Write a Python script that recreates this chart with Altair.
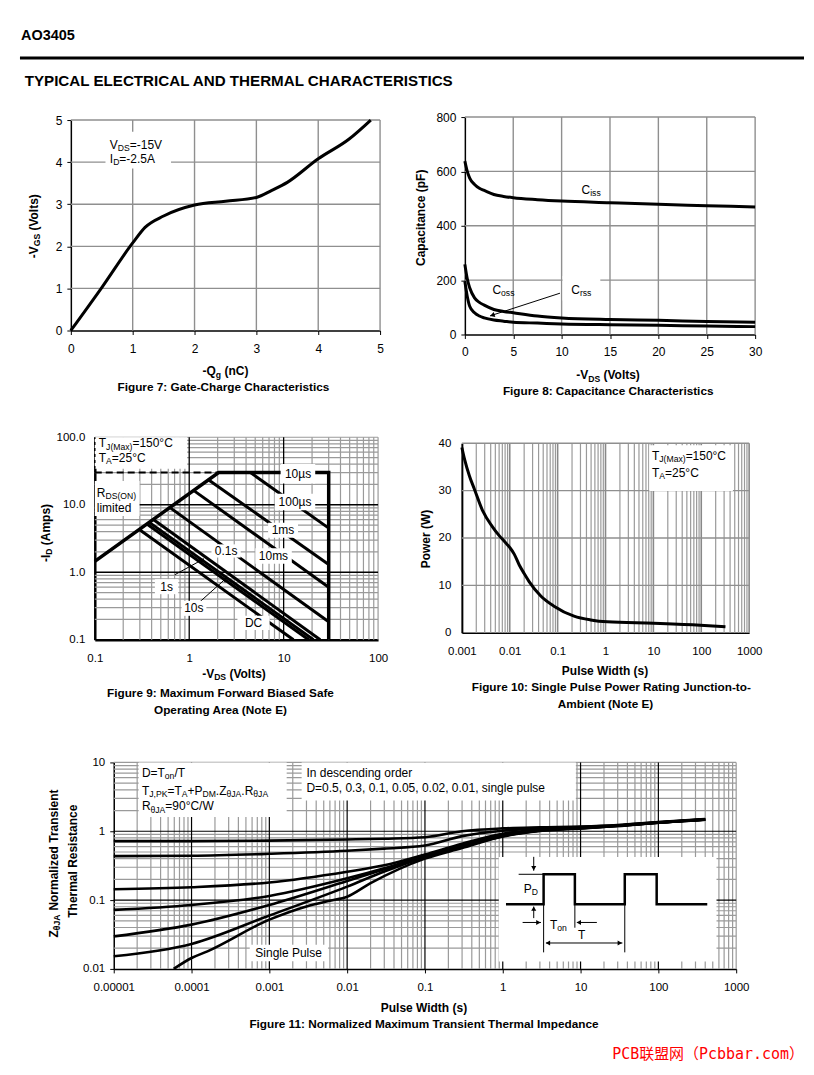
import altair as alt
import pandas as pd

FONT = "Liberation Sans"
GRID = "#9a9a9a"
BLACK = "#000000"

# ---------------- Figure 7: gate charge ----------------
qg_nc = [0, 0.5, 1.0, 1.2, 1.5, 2.0, 2.5, 3.0, 3.25, 3.5, 4.0, 4.5, 4.85]
vgs_volts = [0, 1.02, 2.08, 2.45, 2.72, 2.98, 3.07, 3.16, 3.33, 3.52, 4.08, 4.55, 5.0]

# ---------------- Figure 8: capacitance ----------------
vds_cap = [0, 0.25, 0.5, 1, 1.5, 2, 3, 4, 5, 7.5, 10, 15, 20, 25, 30]
ciss_pf = [638, 600, 575, 552, 538, 530, 515, 508, 503, 496, 491, 485, 479, 474, 469]
coss_pf = [258, 205, 172, 135, 118, 108, 92, 85, 80, 68, 61, 55, 52, 48, 45]
crss_pf = [196, 140, 104, 80, 68, 61, 53, 49, 45, 42, 39, 36, 34, 31, 29]

# ---------------- Figure 9: safe operating area ----------------
soa_limit_v = [0.1, 2.05, 30, 30]
soa_limit_a = [1.45, 30, 30, 0.1]
soa_dash_v = [0.1, 2.05]
soa_dash_a = [30, 30]
soa_names = ["10us", "100us", "1ms", "10ms", "0.1s", "1s", "10s", "DC"]
soa_start_v = [4.45, 1.61, 1.12, 0.625, 0.417, 0.378, 0.356, 0.296]
soa_start_a = [30, 23.3, 16.2, 9.06, 6.05, 5.48, 5.17, 4.29]
soa_end_v = [30, 30, 30, 30, 24.4, 20.7, 18.4, 12.7]
soa_end_a = [4.5, 1.3, 0.6, 0.185, 0.1, 0.1, 0.1, 0.1]
soa_label = ["10\u00b5s", "100\u00b5s", "1ms", "10ms", "0.1s", "1s", "10s", "DC"]
soa_label_v = [14.2, 13.2, 9.85, 7.8, 2.46, 0.576, 1.12, 4.8]
soa_label_a = [28.9, 10.9, 4.2, 1.74, 2.07, 0.61, 0.292, 0.178]
soa_box_v1 = [9.29, 8.04, 6.84, 5.02, 1.72, 0.433, 0.83, 3.24]
soa_box_v2 = [21.6, 21.6, 14.2, 12.2, 3.51, 0.766, 1.52, 7.11]
soa_box_a1 = [20.7, 8.26, 3.25, 1.34, 1.65, 0.473, 0.226, 0.14]
soa_box_a2 = [40.3, 14.5, 5.42, 2.26, 2.59, 0.789, 0.377, 0.226]

# ---------------- Figure 10: single pulse power ----------------
pw_s = [0.001, 0.00114, 0.00144, 0.00183, 0.00273, 0.0044, 0.0059, 0.0077, 0.01, 0.0124,
        0.0158, 0.02, 0.0254, 0.0445, 0.084, 0.22, 0.49, 1.09, 10.1, 95, 320]
pw_w = [39.1, 36.6, 33.1, 30.3, 25.7, 22.3, 20.6, 19.3, 18.0, 16.6,
        14.3, 12.5, 10.8, 7.75, 5.6, 3.5, 2.7, 2.3, 2.0, 1.6, 1.27]

# ---------------- Figure 11: transient thermal impedance ----------------
zt_x = [1e-5, 1e-4, 1e-3, 1e-2, 0.03, 0.1, 0.3, 1, 3, 10, 30, 100, 400]
zt_d05 = [0.72, 0.72, 0.73, 0.76, 0.78, 0.82, 1.0, 1.1, 1.14, 1.17, 1.23, 1.36, 1.5]
zt_d03 = [0.435, 0.44, 0.47, 0.52, 0.56, 0.62, 0.85, 1.02, 1.1, 1.15, 1.22, 1.35, 1.49]
zt_d01 = [0.144, 0.154, 0.18, 0.258, 0.32, 0.46, 0.66, 0.92, 1.06, 1.13, 1.21, 1.34, 1.49]
zt_d005 = [0.072, 0.085, 0.115, 0.207, 0.29, 0.44, 0.62, 0.88, 1.04, 1.12, 1.2, 1.34, 1.48]
zt_d002 = [0.0297, 0.044, 0.085, 0.19, 0.28, 0.43, 0.6, 0.86, 1.03, 1.11, 1.2, 1.33, 1.48]
zt_d001 = [0.0153, 0.0231, 0.0597, 0.157, 0.26, 0.42, 0.59, 0.85, 1.02, 1.11, 1.19, 1.33, 1.47]
zt_sp_x = [5.9e-5, 1e-4, 1.6e-4, 1e-3, 3e-3, 6e-3, 1e-2, 2e-2, 0.1, 0.3, 1, 3, 10, 30, 100, 400]
zt_sp = [0.01, 0.0144, 0.018, 0.052, 0.081, 0.098, 0.112, 0.176, 0.40, 0.57, 0.84, 1.01, 1.1, 1.19, 1.33, 1.47]
# inset pulse diagram (drawn in the chart's own units)
inset_x = [1.10, 3.35, 3.35, 8.45, 8.45, 37.0, 37.0, 95.1, 95.1, 425]
inset_y = [0.0873, 0.0873, 0.237, 0.237, 0.0873, 0.0873, 0.237, 0.237, 0.0873, 0.0873]
inset_sx1 = [1.60, 2.50, 2.50, 1.80, 16.2, 3.59, 3.35, 8.45, 37.0]
inset_sy1 = [0.237, 0.425, 0.0547, 0.0473, 0.0473, 0.0238, 0.0873, 0.0873, 0.0873]
inset_sx2 = [3.35, 2.50, 2.50, 3.10, 8.97, 34.5, 3.35, 8.45, 37.0]
inset_sy2 = [0.237, 0.267, 0.0805, 0.0473, 0.0473, 0.0238, 0.0174, 0.0397, 0.0174]
inset_hx = [2.50, 2.50, 2.81, 9.7, 3.89, 31.3]
inset_hy = [0.297, 0.0734, 0.0473, 0.0473, 0.0238, 0.0238]
inset_ha = [180, 0, 90, 270, 270, 90]

ONE = pd.DataFrame({"k": [0]})

REG_W = {' ': .278, '-': .333, '=': .584, '+': .584, '.': .278, ',': .278, '/': .278, '(': .333,
         ')': .333, '\u00b0': .4, '\u00b5': .576, '\u03b8': .556, 'A': .667, 'C': .722, 'D': .722,
         'G': .778, 'I': .278, 'J': .5, 'K': .667, 'M': .833, 'N': .722, 'O': .778, 'P': .667,
         'Q': .778, 'R': .722, 'S': .667, 'T': .611, 'V': .667, 'W': .944, 'Z': .611, 'a': .556,
         'c': .5, 'd': .556, 'e': .556, 'g': .556, 'i': .222, 'l': .222, 'm': .833, 'n': .556,
         'o': .556, 'p': .556, 'r': .333, 's': .5, 't': .278, 'u': .556, 'x': .5, 'z': .5}
BOLD_W = {' ': .278, '-': .333, '=': .584, '.': .278, '(': .333, ')': .333, ':': .333,
          '\u03b8': .611, 'A': .722, 'C': .722, 'D': .722, 'G': .778, 'I': .278, 'J': .556,
          'N': .722, 'Q': .778, 'R': .722, 'S': .667, 'T': .611, 'V': .667, 'Z': .611, 'P': .667,
          'W': .944, 'a': .556, 'c': .556, 'd': .611, 'e': .556, 'g': .611, 'i': .278, 'l': .278,
          'm': .889, 'n': .611, 'o': .611, 'p': .611, 'r': .389, 's': .556, 't': .333, 'z': .5,
          'u': .611, 'h': .611, 'f': .333, 'b': .611, 'k': .556, 'v': .556, 'y': .556, 'w': .778}


def tw(s, size, bold):
    tbl = BOLD_W if bold else REG_W
    return size * sum(tbl.get(c, 0.556) for c in s)


def T(text, x, y, size=12, bold=False, align="center", angle=0, color=BLACK, font=FONT, dx=0, dy=0):
    props = dict(text=text, align=align, baseline="middle", fontSize=size, font=font,
                 fontWeight="bold" if bold else "normal", color=color)
    if angle:
        props["angle"] = angle
    if dx:
        props["dx"] = dx
    if dy:
        props["dy"] = dy
    return alt.Chart(ONE).mark_text(**props).encode(x=x, y=y)


def rich(pieces, x, y, size=12, bold=False, align="left", angle=0, dx0=0, sub=0.72):
    """Text with subscripts: one text mark per piece, laid out side by side."""
    ws = [tw(t, size * (sub if s else 1), bold) for t, s in pieces]
    W = sum(ws)
    off = dx0 + {"left": 0, "center": -W / 2, "right": -W}[align]
    out = []
    for (t, s), w in zip(pieces, ws):
        sz = size * (sub if s else 1)
        body = t.lstrip(" ")
        lead = tw(t[:len(t) - len(body)], sz, bold)   # SVG drops leading blanks
        out.append(T(body, x, y, sz, bold, "left", angle,
                     dx=off + lead, dy=(size * 0.27 if s else 0)))
        off += w
    return out


def axis(values, fmt, pad, tick=4, dw=1.5, size=12, offset=0):
    kw = dict(values=values, format=fmt, title=None, grid=False, domainColor=BLACK, domainWidth=dw,
              labelFont=FONT, labelFontSize=size, labelColor=BLACK, labelPadding=pad,
              labelFlush=False, labelOverlap=False)
    if offset:
        kw["offset"] = offset
    if tick:
        kw.update(ticks=True, tickSize=tick, tickColor=BLACK, tickWidth=1)
    else:
        kw.update(ticks=False)
    return alt.Axis(**kw)


class Panel:
    """Holds the scales and axes of one figure; every layer uses the same definitions."""

    def __init__(self, sx, sy, ax, ay, ox, oy):
        self.sx, self.sy, self.ax, self.ay, self.ox, self.oy = sx, sy, ax, ay, ox, oy

    def X(self, f):
        return alt.X(f, type="quantitative", scale=self.sx, axis=self.ax)

    def Y(self, f):
        return alt.Y(f, type="quantitative", scale=self.sy, axis=self.ay)

    def DX(self, v):
        return alt.X(datum=v, type="quantitative", scale=self.sx, axis=self.ax)

    def DY(self, v):
        return alt.Y(datum=v, type="quantitative", scale=self.sy, axis=self.ay)

    def PX(self, v):
        return alt.value(self.ox + v)

    def PY(self, v):
        return alt.value(self.oy + v)

    def vrules(self, vals, y0, y1, color=GRID, width=1.2):
        return alt.Chart(pd.DataFrame({"g": vals})).mark_rule(color=color, strokeWidth=width).encode(
            x=self.X("g"), y=self.DY(y0), y2=alt.Y2(datum=y1))

    def hrules(self, vals, x0, x1, color=GRID, width=1.2):
        return alt.Chart(pd.DataFrame({"g": vals})).mark_rule(color=color, strokeWidth=width).encode(
            y=self.Y("g"), x=self.DX(x0), x2=alt.X2(datum=x1))

    def box(self, x0, x1, y0, y1):
        return alt.Chart(ONE).mark_rect(color="white").encode(
            x=self.DX(x0), x2=alt.X2(datum=x1), y=self.DY(y0), y2=alt.Y2(datum=y1))

    def heads(self, xs, ys, angles, size=30):
        return alt.Chart(pd.DataFrame({"x": xs, "y": ys, "a": angles})).mark_point(
            shape="triangle", filled=True, color=BLACK, size=size, opacity=1).encode(
            x=self.X("x"), y=self.Y("y"), angle=alt.Angle("a:Q", scale=None))

    def segs(self, x1, y1, x2, y2, width=1):
        return alt.Chart(pd.DataFrame({"x": x1, "y": y1, "x2": x2, "y2": y2})).mark_rule(
            color=BLACK, strokeWidth=width).encode(
            x=self.X("x"), y=self.Y("y"), x2="x2:Q", y2="y2:Q")


def spacer(w, h):
    return alt.Chart(ONE).mark_point(opacity=0, size=0).encode(
        x=alt.value(0), y=alt.value(0)).properties(width=w, height=h)


CAP = 11.8
# Layout: two grid columns. Column 1 starts at page x=18, column 2 at page x=461.
COL1 = 443

# ======================= Figure 7 =======================
ox, oy = 51, 3
p7 = Panel(alt.Scale(domain=[0, 5], nice=False, zero=False, range=[ox, ox + 310]),
           alt.Scale(domain=[0, 5], nice=False, zero=False, range=[oy + 211, oy]),
           axis([0, 1, 2, 3, 4, 5], "d", 9),
           axis([0, 1, 2, 3, 4, 5], "d", 5, offset=-ox), ox, oy)
line7 = alt.Chart(pd.DataFrame({"q": qg_nc, "v": vgs_volts})).mark_line(
    color=BLACK, strokeWidth=3, interpolate="monotone").encode(x=p7.X("q"), y=p7.Y("v"))
fig7 = alt.layer(
    p7.vrules([1, 2, 3, 4, 5], 0, 5, "#8f8f8f", 1.4), p7.hrules([1, 2, 3, 4, 5], 0, 5, "#8f8f8f", 1.4),
    line7, p7.box(0.56, 1.62, 3.85, 4.72),
    *rich([("V", 0), ("DS", 1), ("=-15V", 0)], p7.DX(0.63), p7.DY(4.41)),
    *rich([("I", 0), ("D", 1), ("=-2.5A", 0)], p7.DX(0.63), p7.DY(4.08)),
    *rich([("-V", 0), ("GS", 1), (" (Volts)", 0)], p7.PX(-37.3), p7.PY(106),
          bold=True, align="center", angle=270),
    *rich([("-Q", 0), ("g", 1), (" (nC)", 0)], p7.PX(155), p7.PY(252), bold=True, align="center"),
    T("Figure 7: Gate-Charge Characteristics", p7.PX(153), p7.PY(268), size=CAP, bold=True),
).properties(width=COL1, height=214)

# ======================= Figure 8 =======================
ox, oy = 3, 0
p8 = Panel(alt.Scale(domain=[0, 30], nice=False, zero=False, range=[ox, ox + 291]),
           alt.Scale(domain=[0, 800], nice=False, zero=False, range=[218, 0]),
           axis([0, 5, 10, 15, 20, 25, 30], "d", 8),
           axis([0, 200, 400, 600, 800], "d", 5, offset=-ox), ox, oy)
df8 = pd.concat([
    pd.DataFrame({"v": vds_cap, "c": ciss_pf, "s": "Ciss"}),
    pd.DataFrame({"v": vds_cap, "c": coss_pf, "s": "Coss"}),
    pd.DataFrame({"v": vds_cap, "c": crss_pf, "s": "Crss"}),
])
lines8 = alt.Chart(df8).mark_line(color=BLACK, strokeWidth=3, interpolate="monotone").encode(
    x=p8.X("v"), y=p8.Y("c"), detail="s:N")
fig8 = alt.layer(
    p8.vrules([5, 10, 15, 20, 25, 30], 0, 800, "#8f8f8f", 1.4),
    p8.hrules([200, 400, 600, 800], 0, 30, "#8f8f8f", 1.4),
    lines8, p8.box(10.1, 14.0, 125, 215),
    p8.segs([9.83], [152], [2.61], [68.6]), p8.heads([2.91], [71.9], [253]),
    *rich([("C", 0), ("iss", 1)], p8.DX(12.06), p8.DY(532)),
    *rich([("C", 0), ("oss", 1)], p8.DX(2.85), p8.DY(164)),
    *rich([("C", 0), ("rss", 1)], p8.DX(11.0), p8.DY(164)),
    T("Capacitance (pF)", p8.PX(-44), p8.PY(101), bold=True, angle=270),
    *rich([("-V", 0), ("DS", 1), (" (Volts)", 0)], p8.PX(144), p8.PY(259), bold=True, align="center"),
    T("Figure 8: Capacitance Characteristics", p8.PX(143.7), p8.PY(274.3), size=CAP, bold=True),
).properties(width=ox + 291, height=218)

# ======================= Figure 9 =======================
ox, oy = 75, 0
p9 = Panel(alt.Scale(type="log", domain=[0.1, 100], nice=False, range=[ox, ox + 284]),
           alt.Scale(type="log", domain=[0.1, 100], nice=False, range=[203, 0]),
           axis([0.1, 1, 10, 100], "~g", 13, tick=0, dw=2.5, size=11.5),
           axis([0.1, 1, 10, 100], ".1f", 10, tick=0, dw=2.5, size=11.5, offset=-ox), ox, oy)
minor9 = [k * d for d in [0.1, 1, 10] for k in range(2, 10)] + [100]
seg9 = pd.DataFrame({
    "n": soa_names * 2,
    "x": soa_start_v + soa_end_v,
    "y": soa_start_a + soa_end_a,
    "o": [0] * 8 + [1] * 8,
})
pulses9 = alt.Chart(seg9).mark_line(color=BLACK, strokeWidth=3).encode(
    x=p9.X("x"), y=p9.Y("y"), detail="n:N", order="o:Q")
limit9 = alt.Chart(pd.DataFrame({"x": soa_limit_v, "y": soa_limit_a, "o": [0, 1, 2, 3]})).mark_line(
    color=BLACK, strokeWidth=3.5).encode(x=p9.X("x"), y=p9.Y("y"), order="o:Q")
dash9 = alt.Chart(pd.DataFrame({"x": soa_dash_v, "y": soa_dash_a})).mark_line(
    color=BLACK, strokeWidth=2, strokeDash=[7, 4]).encode(x=p9.X("x"), y=p9.Y("y"))
boxes9 = alt.Chart(pd.DataFrame({"x": soa_box_v1, "x2": soa_box_v2, "y": soa_box_a1,
                                 "y2": soa_box_a2})).mark_rect(color="white").encode(
    x=p9.X("x"), x2="x2:Q", y=p9.Y("y"), y2="y2:Q")
labels9 = alt.Chart(pd.DataFrame({"x": soa_label_v, "y": soa_label_a, "t": soa_label})).mark_text(
    font=FONT, fontSize=12, color=BLACK, align="center", baseline="middle").encode(
    x=p9.X("x"), y=p9.Y("y"), text="t:N")
leftdash9 = alt.Chart(ONE).mark_rule(color=BLACK, strokeWidth=1.5, strokeDash=[3, 3]).encode(
    x=p9.DX(0.1), y=p9.DY(34), y2=alt.Y2(datum=100))
fig9 = alt.layer(
    p9.vrules(minor9, 0.1, 100), p9.hrules(minor9, 0.1, 100),
    p9.vrules([1, 10], 0.1, 100, BLACK, 1.3), p9.hrules([1, 10], 0.1, 100, BLACK, 1.3),
    p9.box(0.1, 0.95, 34, 100), p9.box(0.1, 0.298, 6.8, 22.4), leftdash9,
    dash9, limit9, pulses9,
    p9.segs([0.703, 1.27], [0.918, 0.355], [1.43, 2.50], [1.58, 0.83]),
    p9.heads([1.34, 2.37], [1.50, 0.775], [61, 48]),
    boxes9, labels9,
    *rich([("T", 0), ("J(Max)", 1), ("=150\u00b0C", 0)], p9.DX(0.1), p9.DY(81.3), dx0=4),
    *rich([("T", 0), ("A", 1), ("=25\u00b0C", 0)], p9.DX(0.1), p9.DY(48.9), dx0=4),
    *rich([("R", 0), ("DS(ON)", 1)], p9.DX(0.1), p9.DY(14.9), dx0=2),
    T("limited", p9.DX(0.1), p9.DY(8.94), align="left", dx=2),
    *rich([("-I", 0), ("D", 1), (" (Amps)", 0)], p9.PX(-49), p9.PY(96),
          bold=True, align="center", angle=270),
    *rich([("-V", 0), ("DS", 1), (" (Volts)", 0)], p9.PX(140), p9.PY(237.3), bold=True, align="center"),
    T("Figure 9: Maximum Forward Biased Safe", p9.PX(126), p9.PY(256.7), size=CAP, bold=True),
    T("Operating Area (Note E)", p9.PX(126), p9.PY(273.3), size=CAP, bold=True),
).properties(width=ox + 284, height=203)

# ======================= Figure 10 =======================
ox, oy = 0, 6
p10 = Panel(alt.Scale(type="log", domain=[0.001, 1000], nice=False, range=[0, 288]),
            alt.Scale(domain=[0, 40], nice=False, zero=False, range=[oy + 190, oy]),
            axis([0.001, 0.01, 0.1, 1, 10, 100, 1000], "~g", 13, tick=0, dw=1.5, size=11.5),
            axis([0, 10, 20, 30, 40], "d", 11, tick=0, dw=2, size=11.5), ox, oy)
minor10 = [k * d for d in [0.001, 0.01, 0.1, 1, 10, 100] for k in range(2, 10)]
curve10 = alt.Chart(pd.DataFrame({"t": pw_s, "p": pw_w})).mark_line(
    color=BLACK, strokeWidth=3, interpolate="monotone").encode(x=p10.X("t"), y=p10.Y("p"))
fig10 = alt.layer(
    p10.vrules(minor10, 0, 40), p10.vrules([0.01, 0.1, 1, 10, 100, 1000], 0, 40, "#888888", 1.6),
    p10.hrules([10, 20, 30, 40], 0.001, 1000, "#8f8f8f", 1.4),
    curve10, p10.box(8.2, 458, 29.9, 39.6),
    *rich([("T", 0), ("J(Max)", 1), ("=150\u00b0C", 0)], p10.DX(9.35), p10.DY(37.3)),
    *rich([("T", 0), ("A", 1), ("=25\u00b0C", 0)], p10.DX(9.35), p10.DY(33.7)),
    T("Power (W)", p10.PX(-36), p10.PY(96), bold=True, angle=270),
    T("Pulse Width (s)", p10.PX(143.5), p10.PY(228.7), bold=True),
    T("Figure 10: Single Pulse Power Rating Junction-to-", p10.PX(149.8), p10.PY(244.7),
      size=CAP, bold=True),
    T("Ambient (Note E)", p10.PX(144), p10.PY(261.3), size=CAP, bold=True),
).properties(width=288, height=196)

# ======================= Figure 11 =======================
ox, oy = 94, 0
p11 = Panel(alt.Scale(type="log", domain=[1e-5, 1000], nice=False, range=[ox, ox + 624]),
            alt.Scale(type="log", domain=[0.01, 10], nice=False, range=[207, 0]),
            axis([1e-5, 1e-4, 1e-3, 1e-2, 0.1, 1, 10, 100, 1000], "~g", 9, tick=4, size=11.5),
            axis([0.01, 0.1, 1, 10], "~g", 5, tick=4, size=11.5, offset=-ox), ox, oy)
minorx11 = [k * d for d in [1e-5, 1e-4, 1e-3, 1e-2, 0.1, 1, 10, 100] for k in range(2, 10)] + [1000]
minory11 = [k * d for d in [0.01, 0.1, 1] for k in range(2, 10)] + [10]
df11 = pd.concat(
    [pd.DataFrame({"x": zt_x, "z": vals, "d": name}) for name, vals in
     [("0.5", zt_d05), ("0.3", zt_d03), ("0.1", zt_d01), ("0.05", zt_d005),
      ("0.02", zt_d002), ("0.01", zt_d001)]]
    + [pd.DataFrame({"x": zt_sp_x, "z": zt_sp, "d": "single"})])
curves11 = alt.Chart(df11).mark_line(color=BLACK, strokeWidth=2.6, interpolate="monotone").encode(
    x=p11.X("x"), y=p11.Y("z"), detail="d:N")
wave11 = alt.Chart(pd.DataFrame({"x": inset_x, "y": inset_y, "o": list(range(len(inset_x)))})).mark_line(
    color=BLACK, strokeWidth=2.5).encode(x=p11.X("x"), y=p11.Y("y"), order="o:Q")
fig11 = alt.layer(
    p11.vrules(minorx11, 0.01, 10), p11.hrules(minory11, 1e-5, 1000),
    p11.vrules([1e-4, 1e-3, 1e-2, 0.1, 1, 10, 100], 0.01, 10, BLACK, 1.2),
    p11.hrules([0.1, 1], 1e-5, 1000, BLACK, 1.2),
    curves11,
    p11.box(2.09e-5, 1.67e-3, 1.61, 10), p11.box(2.6e-3, 8.7, 2.8, 10),
    p11.box(5.6e-4, 5.7e-3, 0.0129, 0.0225), p11.box(0.889, 559, 0.0128, 0.421),
    wave11, p11.segs(inset_sx1, inset_sy1, inset_sx2, inset_sy2),
    p11.heads(inset_hx, inset_hy, inset_ha, size=26),
    *rich([("D=T", 0), ("on", 1), ("/T", 0)], p11.DX(2.3e-5), p11.DY(6.96)),
    *rich([("T", 0), ("J,PK", 1), ("=T", 0), ("A", 1), ("+P", 0), ("DM", 1), (".Z", 0),
           ("\u03b8JA", 1), (".R", 0), ("\u03b8JA", 1)], p11.DX(2.3e-5), p11.DY(3.82)),
    *rich([("R", 0), ("\u03b8JA", 1), ("=90\u00b0C/W", 0)], p11.DX(2.3e-5), p11.DY(2.30)),
    T("In descending order", p11.DX(3.0e-3), p11.DY(6.96), align="left"),
    T("D=0.5, 0.3, 0.1, 0.05, 0.02, 0.01, single pulse", p11.DX(3.0e-3), p11.DY(4.22), align="left"),
    T("Single Pulse", p11.DX(1.77e-3), p11.DY(0.0171)),
    *rich([("P", 0), ("D", 1)], p11.DX(1.86), p11.DY(0.144)),
    *rich([("T", 0), ("on", 1)], p11.DX(4.04), p11.DY(0.0438)),
    T("T", p11.DX(10.3), p11.DY(0.0311)),
    *rich([("Z", 0), ("\u03b8JA", 1), (" Normalized Transient", 0)], p11.PX(-59.7), p11.PY(101),
          bold=True, align="center", angle=270),
    T("Thermal Resistance", p11.PX(-41.3), p11.PY(99), bold=True, angle=270),
    T("Pulse Width (s)", p11.PX(311), p11.PY(246.3), bold=True),
    T("Figure 11: Normalized Maximum Transient Thermal Impedance", p11.PX(311), p11.PY(262),
      size=CAP, bold=True),
).properties(width=COL1, height=207)

# ======================= page layout =======================
header = alt.layer(
    T("AO3405", alt.value(1), alt.value(15.3), size=14.5, bold=True, align="left"),
    alt.Chart(ONE).mark_rule(color=BLACK, strokeWidth=3).encode(
        x=alt.value(0), x2=alt.value(786), y=alt.value(37.8)),
    T("TYPICAL ELECTRICAL AND THERMAL CHARACTERISTICS", alt.value(4.7), alt.value(61.3),
      size=15.2, bold=True, align="left"),
).properties(width=COL1, height=97)

footer = T("PCB\u8054\u76df\u7f51\uff08Pcbbar.com\uff09", alt.value(786), alt.value(85), size=15,
           align="right", color="#ff0000", font="DejaVu Sans Mono, Noto Sans CJK SC").properties(
    width=COL1, height=90)

cells = [
    header, spacer(0, 0),
    fig7, fig8,
    spacer(0, 103), spacer(0, 0),
    fig9, fig10,
    spacer(0, 123), spacer(0, 0),
    fig11, spacer(0, 0),
    footer, spacer(0, 0),
]

chart = alt.concat(
    *cells, columns=2, spacing=0, bounds="flush",
).properties(
    padding={"left": 10, "top": 10, "right": 0, "bottom": 0}
).configure_view(stroke="transparent")

chart.save("out.html", embed_options={"renderer": "svg", "actions": False})
